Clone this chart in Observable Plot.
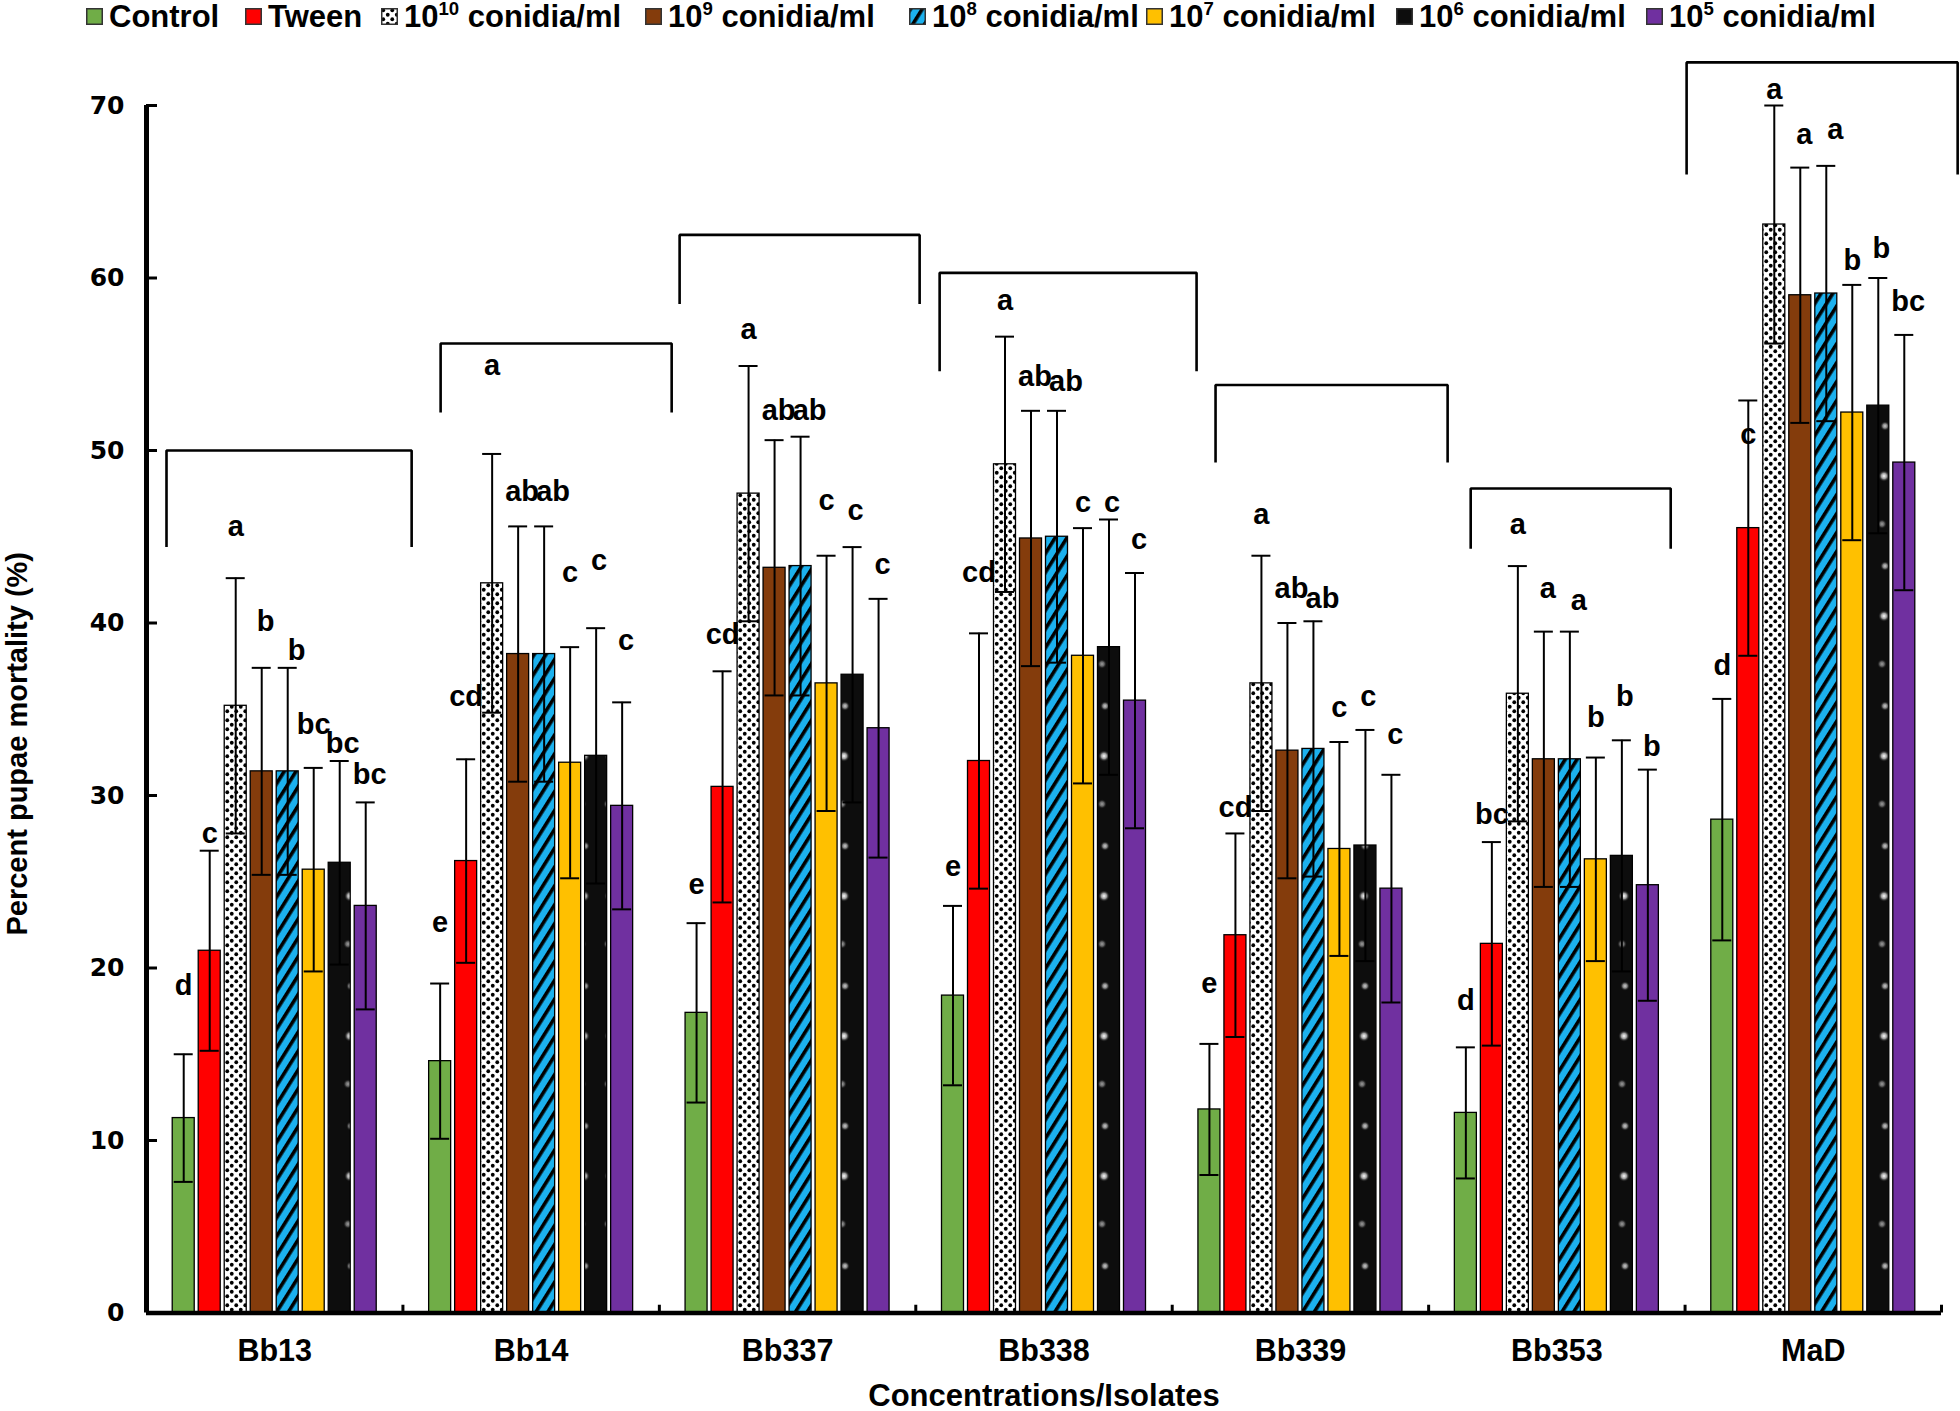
<!DOCTYPE html>
<html>
<head>
<meta charset="utf-8">
<script src="https://cdn.jsdelivr.net/npm/d3@7"></script>
<script src="https://cdn.jsdelivr.net/npm/@observablehq/plot@0.6"></script>
<style>
  html, body { margin: 0; padding: 0; background: #fff; }
  body { width: 1960px; height: 1411px; overflow: hidden; font-family: "Liberation Sans", Arial, sans-serif; }
  #legend { position: relative; width: 1960px; height: 34px; }
  .li { position: absolute; top: 0; height: 33px; display: flex; align-items: center; font-weight: bold; font-size: 31px; white-space: nowrap; color: #000; }
  .li svg { margin-right: 6px; flex: none; }
  .li sup { font-size: 0.6em; vertical-align: 0; position: relative; top: -0.6em; line-height: 0; }
  #chart svg { display: block; }
</style>
</head>
<body>
<div id="legend"></div>
<div id="chart"></div>
<script>
// ---------- data ----------
const isolates = ["Bb13", "Bb14", "Bb337", "Bb338", "Bb339", "Bb353", "MaD"];
const seriesNames = ["Control", "Tween", "10^10", "10^9", "10^8", "10^7", "10^6", "10^5"];
const seriesExponents = ["", "", "10", "9", "8", "7", "6", "5"];
const yTicks = [0, 10, 20, 30, 40, 50, 60, 70];

const meanControl = [11.3, 14.6, 17.4, 18.4, 11.8, 11.6, 28.6];
const meanTween   = [21.0, 26.2, 30.5, 32.0, 21.9, 21.4, 45.5];
const mean1e10    = [35.2, 42.3, 47.5, 49.2, 36.5, 35.9, 63.1];
const mean1e9     = [31.4, 38.2, 43.2, 44.9, 32.6, 32.1, 59.0];
const mean1e8     = [31.4, 38.2, 43.3, 45.0, 32.7, 32.1, 59.1];
const mean1e7     = [25.7, 31.9, 36.5, 38.1, 26.9, 26.3, 52.2];
const mean1e6     = [26.1, 32.3, 37.0, 38.6, 27.1, 26.5, 52.6];
const mean1e5     = [23.6, 29.4, 33.9, 35.5, 24.6, 24.8, 49.3];

const errControl = [3.7, 4.5, 5.2, 5.2, 3.8, 3.8, 7.0];
const errTween   = [5.8, 5.9, 6.7, 7.4, 5.9, 5.9, 7.4];
const err1e10    = [7.4, 7.5, 7.4, 7.4, 7.4, 7.4, 6.9];
const err1e9     = [6.0, 7.4, 7.4, 7.4, 7.4, 7.4, 7.4];
const err1e8     = [6.0, 7.4, 7.5, 7.3, 7.4, 7.4, 7.4];
const err1e7     = [5.9, 6.7, 7.4, 7.4, 6.2, 5.9, 7.4];
const err1e6     = [5.9, 7.4, 7.4, 7.4, 6.7, 6.7, 7.4];
const err1e5     = [6.0, 6.0, 7.5, 7.4, 6.6, 6.7, 7.4];

const lettersControl = ["d", "e", "e", "e", "e", "d", "d"];
const lettersTween   = ["c", "cd", "cd", "cd", "cd", "bc", "c"];
const letters1e10    = ["a", "a", "a", "a", "a", "a", "a"];
const letters1e9     = ["b", "ab", "ab", "ab", "ab", "a", "a"];
const letters1e8     = ["b", "ab", "ab", "ab", "ab", "a", "a"];
const letters1e7     = ["bc", "c", "c", "c", "c", "b", "b"];
const letters1e6     = ["bc", "c", "c", "c", "c", "b", "b"];
const letters1e5     = ["bc", "c", "c", "c", "c", "b", "bc"];

// heights (in % units) at which the significance letters sit
const letterYControl = [19.0, 22.6, 24.8, 25.9, 19.1, 18.1, 37.5];
const letterYTween   = [27.8, 35.7, 39.3, 42.9, 29.3, 28.9, 50.9];
const letterY1e10    = [45.6, 54.9, 57.0, 58.7, 46.3, 45.7, 70.9];
const letterY1e9     = [40.1, 47.6, 52.3, 54.3, 42.0, 42.0, 68.3];
const letterY1e8     = [38.4, 47.6, 52.3, 54.0, 41.4, 41.3, 68.6];
const letterY1e7     = [34.1, 42.9, 47.1, 47.0, 35.1, 34.5, 61.0];
const letterY1e6     = [33.0, 43.6, 46.5, 47.0, 35.7, 35.7, 61.7];
const letterY1e5     = [31.2, 39.0, 43.4, 44.8, 33.5, 32.8, 58.6];

// group brackets: top and leg-bottom heights (%), and extent in isolate-slot units
const bracketTop  = [50.0, 56.2, 62.5, 60.3, 53.8, 47.8, 72.5];
const bracketLeg  = [44.4, 52.2, 58.5, 54.6, 49.3, 44.3, 66.0];
const bracketFrom = [0.078, 0.147, 0.079, 0.093, 0.169, 0.164, 0.006];
const bracketTo   = [1.034, 1.048, 1.015, 1.095, 1.074, 0.944, 1.063];

const means   = [meanControl, meanTween, mean1e10, mean1e9, mean1e8, mean1e7, mean1e6, mean1e5];
const errs    = [errControl, errTween, err1e10, err1e9, err1e8, err1e7, err1e6, err1e5];
const letters = [lettersControl, lettersTween, letters1e10, letters1e9, letters1e8, letters1e7, letters1e6, letters1e5];
const letterYs = [letterYControl, letterYTween, letterY1e10, letterY1e9, letterY1e8, letterY1e7, letterY1e6, letterY1e5];

const fills = ["#70ad47", "#ff0000", "url(#pDots)", "#843c0c", "url(#pStripe)", "#ffc000", "url(#pBlack)", "#7030a0"];

// ---------- layout ----------
const W = 1960, H = 1377;
const marginLeft = 146, marginRight = 19, marginTop = 71, marginBottom = 98.5;
const pxPerUnit = (W - marginLeft - marginRight) / 7;
const slot = 26 / pxPerUnit;        // bar pitch within a group
const barW = 22 / pxPerUnit;        // bar width
const capW = 9.5 / pxPerUnit;       // half cap width
const letterShift = [0, 0, 0, 4, 9, 0, 3, 4]; // px

const rows = [];
seriesNames.forEach((s, k) => {
  isolates.forEach((iso, i) => {
    const cx = i + 0.5 + (k - 3.5) * slot;
    rows.push({
      isolate: iso, series: s, k, i, cx,
      mean: means[k][i], err: errs[k][i],
      letter: letters[k][i], ly: letterYs[k][i],
      lx: cx + letterShift[k] / pxPerUnit
    });
  });
});
const caps = rows.flatMap(d => [{cx: d.cx, y: d.mean + d.err}, {cx: d.cx, y: d.mean - d.err}]);
const brackets = isolates.flatMap((iso, i) => [
  {iso, x: i + bracketFrom[i], y: bracketLeg[i]},
  {iso, x: i + bracketFrom[i], y: bracketTop[i]},
  {iso, x: i + bracketTo[i], y: bracketTop[i]},
  {iso, x: i + bracketTo[i], y: bracketLeg[i]}
]);
const groupEdges = d3.range(1, 8);

const sans = '"Liberation Sans", Arial, sans-serif';

const chart = Plot.plot({
  width: W, height: H,
  marginLeft, marginRight, marginTop, marginBottom,
  style: {background: "#fff", overflow: "visible", color: "#000"},
  x: {domain: [0, 7]},
  y: {domain: [0, 70]},
  color: {domain: seriesNames, range: fills},
  marks: [
    Plot.rectY(rows, {x1: d => d.cx - barW / 2, x2: d => d.cx + barW / 2, y1: 0, y2: "mean", fill: "series", stroke: "#000", strokeWidth: 1.3}),
    Plot.ruleX(rows, {x: "cx", y1: d => d.mean - d.err, y2: d => d.mean + d.err, stroke: "#000", strokeWidth: 2}),
    Plot.ruleY(caps, {y: "y", x1: d => d.cx - capW, x2: d => d.cx + capW, stroke: "#000", strokeWidth: 2}),
    Plot.text(rows, {x: "lx", y: "ly", text: "letter", fontSize: 29, fontWeight: "bold", fontFamily: sans, fill: "#000"}),
    Plot.line(brackets, {x: "x", y: "y", z: "iso", stroke: "#000", strokeWidth: 2.6, strokeLinejoin: "miter", strokeLinecap: "butt"}),
    // axes
    Plot.ruleX([0], {y1: 0, y2: 70, stroke: "#000", strokeWidth: 5}),
    Plot.ruleY([0], {x1: 0, x2: 7, stroke: "#000", strokeWidth: 4.5}),
    Plot.ruleY(yTicks, {y: d => d, x1: 0, x2: 11 / pxPerUnit, stroke: "#000", strokeWidth: 3}),
    Plot.ruleX(groupEdges, {x: d => d, y1: 0, y2: 0.45, stroke: "#000", strokeWidth: 3}),
    Plot.axisY({ticks: yTicks, tickSize: 0, tickPadding: 22, label: null, fontSize: 25, fontWeight: "bold", fontFamily: '"DejaVu Sans", Verdana, sans-serif'}),
    Plot.axisX({ticks: isolates.map((_, i) => i + 0.5), tickFormat: d => isolates[Math.floor(d)], tickSize: 0, tickPadding: 26, label: null, fontSize: 30.5, fontWeight: "bold", fontFamily: sans}),
    Plot.text(["Percent pupae mortality (%)"], {x: 0, y: 33, rotate: -90, dx: -129, textAnchor: "middle", lineAnchor: "middle", fontSize: 29, fontWeight: "bold", fontFamily: sans, fill: "#000"}),
    Plot.text(["Concentrations/Isolates"], {frameAnchor: "bottom", textAnchor: "middle", lineAnchor: "middle", dy: 83.5, fontSize: 31, fontWeight: "bold", fontFamily: sans, fill: "#000"})
  ]
});

// ---------- fill patterns ----------
const svgSel = d3.select(chart.tagName.toLowerCase() === "svg" ? chart : chart.querySelector("svg"));
const defs = svgSel.insert("defs", ":first-child");
const pd = defs.append("pattern").attr("id", "pDots").attr("patternUnits", "userSpaceOnUse").attr("width", 9).attr("height", 9);
pd.append("rect").attr("width", 9).attr("height", 9).attr("fill", "#fff");
pd.append("circle").attr("cx", 2.25).attr("cy", 2.25).attr("r", 1.9).attr("fill", "#000");
pd.append("circle").attr("cx", 6.75).attr("cy", 6.75).attr("r", 1.9).attr("fill", "#000");
const ps = defs.append("pattern").attr("id", "pStripe").attr("patternUnits", "userSpaceOnUse").attr("width", 10).attr("height", 10).attr("patternTransform", "rotate(32)");
ps.append("rect").attr("width", 10).attr("height", 10).attr("fill", "#1cb1ee");
ps.append("rect").attr("width", 3.6).attr("height", 10).attr("fill", "#000");
const rg = defs.append("radialGradient").attr("id", "gSpot");
rg.append("stop").attr("offset", "0%").attr("stop-color", "#fff").attr("stop-opacity", 1);
rg.append("stop").attr("offset", "45%").attr("stop-color", "#ddd").attr("stop-opacity", 0.7);
rg.append("stop").attr("offset", "100%").attr("stop-color", "#000").attr("stop-opacity", 0);
const pb = defs.append("pattern").attr("id", "pBlack").attr("patternUnits", "userSpaceOnUse").attr("width", 26).attr("height", 140);
pb.append("rect").attr("width", 26).attr("height", 140).attr("fill", "#0d0d0d");
pb.append("circle").attr("cx", 12).attr("cy", 22).attr("r", 6).attr("fill", "url(#gSpot)");
pb.append("circle").attr("cx", 10).attr("cy", 70).attr("r", 5).attr("fill", "url(#gSpot)").attr("opacity", 0.6);
pb.append("circle").attr("cx", 13).attr("cy", 112).attr("r", 5).attr("fill", "url(#gSpot)").attr("opacity", 0.8);

document.getElementById("chart").appendChild(chart);

// ---------- legend ----------
const legendLeft = [86, 245, 381, 645, 909, 1146, 1396, 1646];
const legend = document.getElementById("legend");
seriesNames.forEach((s, k) => {
  const item = document.createElement("div");
  item.className = "li";
  item.style.left = legendLeft[k] + "px";
  item.innerHTML =
    `<svg width="17" height="17"><rect x="0.75" y="0.75" width="15.5" height="15.5" fill="${fills[k]}" stroke="#333" stroke-width="1.5"/></svg>` +
    (seriesExponents[k] ? `<span>10<sup>${seriesExponents[k]}</sup> conidia/ml</span>` : `<span>${s}</span>`);
  legend.appendChild(item);
});
</script>
</body>
</html>
